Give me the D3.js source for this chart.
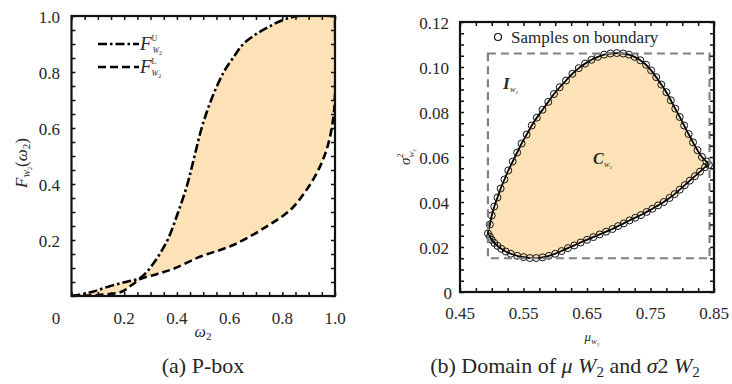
<!DOCTYPE html>
<html><head><meta charset="utf-8">
<script src="https://cdn.jsdelivr.net/npm/d3@7"></script>
<style>
body{margin:0;background:#fff}
svg{display:block}
</style>
</head><body>
<svg id="c" width="732" height="384"></svg>
<script>
// ---------- DATA ----------
// (a) P-box: upper (dash-dot) and lower (dashed) bounding CDFs [omega, F]
const pboxUpper = [[0,0],[0.03,0.004],[0.08,0.015],[0.145,0.035],[0.21,0.051],[0.26,0.064],[0.285,0.085],[0.31,0.115],[0.34,0.158],[0.367,0.205],[0.405,0.3],[0.44,0.4],[0.467,0.5],[0.494,0.6],[0.53,0.7],[0.578,0.8],[0.62,0.86],[0.652,0.9],[0.7,0.935],[0.75,0.962],[0.8,0.985],[0.86,1],[1,1]];
const pboxLower = [[0,0],[0.108,0.004],[0.19,0.015],[0.23,0.04],[0.26,0.06],[0.323,0.078],[0.386,0.097],[0.487,0.14],[0.614,0.182],[0.74,0.248],[0.83,0.307],[0.892,0.379],[0.943,0.462],[0.975,0.545],[0.994,0.64],[1,0.72],[1,1]];
const leftXTicks = [0.2,0.4,0.6,0.8,1.0];
const leftYTicks = [0.2,0.4,0.6,0.8,1.0];
const leftLegend = ["U","L"];

// (b) samples on the boundary of C_W2 [mu, sigma^2]
const boundarySamples = [
[0.494,0.0260],[0.497,0.030],[0.500,0.034],[0.504,0.038],[0.509,0.042],[0.514,0.046],[0.520,0.050],[0.526,0.054],[0.533,0.058],[0.540,0.062],
[0.547,0.066],[0.555,0.070],[0.563,0.074],[0.571,0.0775],[0.580,0.081],[0.589,0.0845],[0.598,0.088],[0.607,0.091],[0.617,0.094],[0.627,0.097],
[0.637,0.0995],[0.647,0.1015],[0.657,0.1032],[0.667,0.1045],[0.677,0.1055],[0.687,0.1060],[0.697,0.1062],[0.707,0.1060],[0.716,0.1055],[0.725,0.1045],
[0.734,0.1030],[0.743,0.1010],[0.751,0.0985],[0.759,0.0955],[0.767,0.0922],[0.775,0.0888],[0.782,0.0852],[0.789,0.0815],[0.796,0.0778],[0.803,0.0740],
[0.810,0.0702],[0.817,0.0665],[0.824,0.0630],[0.831,0.0600],[0.838,0.0580],[0.842,0.0565],[0.836,0.0555],[0.828,0.0535],[0.820,0.0515],[0.812,0.0495],
[0.804,0.0475],[0.796,0.0455],[0.788,0.0435],[0.780,0.0418],[0.771,0.0400],[0.762,0.0385],[0.753,0.0370],[0.744,0.0356],[0.735,0.0342],[0.726,0.0330],
[0.717,0.0318],[0.708,0.0305],[0.699,0.0293],[0.690,0.0280],[0.680,0.0268],[0.670,0.0256],[0.660,0.0244],[0.650,0.0232],[0.640,0.0220],[0.630,0.0207],
[0.620,0.0195],[0.610,0.0182],[0.600,0.0170],[0.590,0.0161],[0.580,0.0154],[0.570,0.0151],[0.560,0.0151],[0.550,0.0155],[0.540,0.0161],[0.530,0.0170],
[0.522,0.0180],[0.515,0.0192],[0.509,0.0205],[0.504,0.0218],[0.500,0.0232],[0.497,0.0246]];
const intervalMu = [0.494, 0.843];
const intervalVar = [0.015, 0.106];
const rightXTicks = [0.45,0.55,0.65,0.75,0.85];
const rightYTicks = [0,0.02,0.04,0.06,0.08,0.10,0.12];
const rightLegend = "Samples on boundary";

// ---------- DRAW ----------
const FONT = "Liberation Serif";
const svg = d3.select("#c");
const FILL = "#fde2b8";
const TICKFONT = 17;
const INK = "#262626";

function txt(g, x, y, s, size, anchor) {
  return g.append("text").attr("x", x).attr("y", y).attr("font-family", FONT)
    .attr("fill", INK).attr("font-size", size).attr("text-anchor", anchor || "start").text(s);
}

function rich(g, x, y, parts, opts = {}) {
  const t = g.append("text").attr("x", x).attr("y", y).attr("font-family", FONT).attr("fill", INK)
    .attr("text-anchor", opts.anchor || "start");
  if (opts.rotate) t.attr("transform", `rotate(${opts.rotate},${x},${y})`);
  let cur = 0;
  parts.forEach(p => {
    const s = t.append("tspan").text(p.t)
      .attr("font-size", p.size || 17)
      .attr("dy", (p.dy || 0) - cur);
    if (p.it) s.attr("font-style", "italic");
    if (p.b) s.attr("font-weight", "bold");
    if (p.dx) s.attr("dx", p.dx);
    cur = p.dy || 0;
  });
  return t;
}

function ticksInward(g, x, y, xMinor, yMinor) {
  const [x0, x1] = x.range(), [y0, y1] = y.range();
  const mk = (axis, tx, ty) => {
    const a = g.append("g").attr("transform", `translate(${tx},${ty})`).call(axis);
    a.select(".domain").remove();
    a.selectAll("line").attr("stroke", "#111").attr("stroke-width", 1.5);
  };
  mk(d3.axisBottom(x).tickValues(xMinor).tickSize(-4).tickFormat(""), 0, y0);
  mk(d3.axisTop(x).tickValues(xMinor).tickSize(-4).tickFormat(""), 0, y1);
  mk(d3.axisLeft(y).tickValues(yMinor).tickSize(-4).tickFormat(""), x0, 0);
  mk(d3.axisRight(y).tickValues(yMinor).tickSize(-4).tickFormat(""), x1, 0);
  g.append("rect").attr("x", x0).attr("y", y1).attr("width", x1 - x0).attr("height", y0 - y1)
    .attr("fill", "none").attr("stroke", "#111").attr("stroke-width", 2.2);
}

// ----- panel (a) -----
{
  const g = svg.append("g");
  const x = d3.scaleLinear().domain([0, 1]).range([71.5, 335]);
  const y = d3.scaleLinear().domain([0, 1]).range([296, 16]);
  const line = d3.line().x(d => x(d[0])).y(d => y(d[1])).curve(d3.curveCatmullRom.alpha(0.5));

  g.append("clipPath").attr("id", "clipA").append("rect")
    .attr("x", 71.5).attr("y", 16).attr("width", 335 - 71.5).attr("height", 280);
  const pg = g.append("g").attr("clip-path", "url(#clipA)");
  const up = line(pboxUpper);
  const lo = line(pboxLower.slice().reverse());
  pg.append("path").attr("d", up + "L" + lo.slice(1) + "Z").attr("fill", FILL).attr("stroke", "none");
  pg.append("path").attr("d", line(pboxLower)).attr("fill", "none").attr("stroke", "#000")
    .attr("stroke-width", 2.6).attr("stroke-dasharray", "8,4");
  pg.append("path").attr("d", up).attr("fill", "none").attr("stroke", "#000")
    .attr("stroke-width", 2.6).attr("stroke-dasharray", "9,3,2.5,3");

  ticksInward(g, x, y, d3.range(0, 1.0001, 0.05), d3.range(0, 1.0001, 0.05));

  leftXTicks.forEach(v => txt(g, x(v), 324, d3.format(".1f")(v), TICKFONT, "middle"));
  txt(g, 56, 324, "0", TICKFONT, "middle");
  leftYTicks.forEach(v => txt(g, 60, y(v) + 1, d3.format(".1f")(v), TICKFONT, "end").attr("dy", "0.35em"));

  // legend
  const lg = g.append("g");
  [[44, "9,3,2.5,3"], [67, "8,4"]].forEach((r, i) => {
    lg.append("line").attr("x1", 98).attr("x2", 139).attr("y1", r[0]).attr("y2", r[0])
      .attr("stroke", "#000").attr("stroke-width", 2.6).attr("stroke-dasharray", r[1]);
    rich(lg, 140, r[0] + 6, [
      {t: "F", it: true, size: 19},
      {t: leftLegend[i], size: 8, dy: -9},
      {t: "W", it: true, size: 8, dy: 3, dx: -5},
      {t: "2", size: 6, dy: 5}
    ]);
  });

  // axis labels
  rich(g, 203, 337, [{t: "ω", it: true, size: 16}, {t: "2", size: 11, dy: 3}], {anchor: "middle"});
  rich(g, 27, 163, [
    {t: "F", it: true, size: 17},
    {t: "W", it: true, size: 9, dy: 3},
    {t: "2", size: 6, dy: 5},
    {t: "(", size: 17, dy: 0},
    {t: "ω", it: true, size: 17},
    {t: "2", size: 11, dy: 3},
    {t: ")", size: 17, dy: 0}
  ], {anchor: "middle", rotate: -90});

  txt(g, 203, 373, "(a) P-box", 22, "middle");
}

// ----- panel (b) -----
{
  const g = svg.append("g");
  const x = d3.scaleLinear().domain([0.45, 0.85]).range([460, 714]);
  const y = d3.scaleLinear().domain([0, 0.12]).range([292, 22]);
  const closed = d3.line().x(d => x(d[0])).y(d => y(d[1])).curve(d3.curveCatmullRomClosed.alpha(0.5));

  g.append("path").attr("d", closed(boundarySamples)).attr("fill", FILL).attr("stroke", "#000").attr("stroke-width", 1.8);
  g.selectAll("circle.s").data(boundarySamples).join("circle").attr("class", "s")
    .attr("cx", d => x(d[0])).attr("cy", d => y(d[1])).attr("r", 3.5)
    .attr("fill", "none").attr("stroke", "#111").attr("stroke-width", 1);

  g.append("rect").attr("x", x(intervalMu[0])).attr("y", y(intervalVar[1]))
    .attr("width", x(intervalMu[1]) - x(intervalMu[0])).attr("height", y(intervalVar[0]) - y(intervalVar[1]))
    .attr("fill", "none").attr("stroke", "#808080").attr("stroke-width", 2.2).attr("stroke-dasharray", "8,5");

  ticksInward(g, x, y, d3.range(0.45, 0.8501, 0.025), d3.range(0, 0.1201, 0.005));

  rightXTicks.forEach(v => txt(g, x(v), 319, d3.format(".2f")(v), TICKFONT, "middle"));
  rightYTicks.forEach(v => txt(g, v === 0 ? 452 : 449, y(v) + 1, v === 0 ? "0" : d3.format(".2f")(v), TICKFONT, "end").attr("dy", "0.35em"));

  // legend
  g.append("circle").attr("cx", 498).attr("cy", 37).attr("r", 3.5).attr("fill", "none").attr("stroke", "#111").attr("stroke-width", 1.2);
  txt(g, 511, 43, rightLegend, 17);

  // region labels
  rich(g, 503, 89, [{t: "I", it: true, b: true, size: 17}, {t: "W", it: true, size: 7, dy: 3}, {t: "2", size: 5, dy: 5}]);
  rich(g, 593, 164, [{t: "C", it: true, b: true, size: 16}, {t: "W", it: true, size: 7, dy: 3}, {t: "2", size: 5, dy: 5}]);

  // axis labels
  rich(g, 592, 341, [{t: "μ", it: true, size: 13}, {t: "W", it: true, size: 7, dy: 3}, {t: "2", size: 5, dy: 5}], {anchor: "middle"});
  rich(g, 410, 157, [
    {t: "σ", it: true, size: 15},
    {t: "2", size: 8, dy: -7},
    {t: "W", it: true, size: 7, dy: 4, dx: -4},
    {t: "2", size: 5, dy: 6}
  ], {anchor: "middle", rotate: -90});

  rich(g, 565, 373, [
    {t: "(b) Domain of ", size: 22},
    {t: "μ", it: true, size: 22},
    {t: " ", size: 22},
    {t: "W", it: true, size: 22},
    {t: "2", size: 15, dy: 4},
    {t: " and ", size: 22, dy: 0},
    {t: "σ", it: true, size: 22},
    {t: "2 ", size: 22},
    {t: "W", it: true, size: 22},
    {t: "2", size: 15, dy: 4}
  ], {anchor: "middle"});
}
</script>
</body></html>
